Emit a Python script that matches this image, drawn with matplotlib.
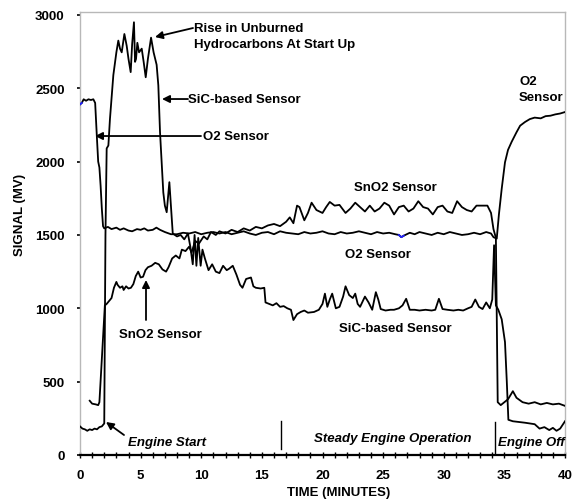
import matplotlib
matplotlib.use("Agg")
import matplotlib.pyplot as plt
import numpy as np

plt.rcParams['font.family'] = ['Liberation Sans', 'DejaVu Sans']

# ---------------- data ----------------
o2_t = [0.0, 0.15, 0.3, 0.5, 0.7, 0.9, 1.1, 1.25, 1.4, 1.5, 1.6, 1.7, 1.8, 1.9, 2.0,
        2.3, 2.6, 3.0, 3.3, 3.6, 4.0, 4.3, 4.7, 5.0, 5.3, 5.6, 6.0, 6.3, 6.6, 7.0, 7.5,
        8.0, 8.5, 9.0, 9.5, 10.0, 10.5, 11.0, 11.5, 12.0, 12.5, 13.0, 13.5, 14.0, 14.5,
        15.0, 15.5, 16.0, 16.5, 17.0, 17.5, 18.0, 18.5, 19.0, 19.5, 20.0, 20.5, 21.0,
        21.5, 22.0, 22.5, 23.0, 23.5, 24.0, 24.5, 25.0, 25.5, 26.0, 26.3, 26.5, 26.7,
        27.2, 27.6, 28.0, 28.5, 29.0, 29.5, 30.0, 30.5, 31.0, 31.5, 32.0, 32.5, 33.0,
        33.5, 33.9, 34.1, 34.37, 34.55, 34.78, 35.05, 35.3, 35.6, 36.0, 36.3, 36.7,
        37.1, 37.5, 38.0, 38.4, 38.8, 39.2, 39.6, 40.0]
o2_v = [2390, 2400, 2425, 2415, 2425, 2420, 2425, 2400, 2155, 2000, 1960, 1835, 1680, 1560, 1545,
        1555, 1540, 1550, 1535, 1545, 1530, 1525, 1540, 1535, 1545, 1530, 1535, 1550, 1535, 1520, 1505,
        1505, 1515, 1510, 1520, 1505, 1515, 1520, 1510, 1520, 1505, 1515, 1525, 1510, 1500,
        1515, 1520, 1505, 1525, 1515, 1510, 1505, 1520, 1510, 1515, 1525, 1510, 1505,
        1520, 1510, 1515, 1525, 1515, 1505, 1520, 1510, 1515, 1505, 1500, 1485, 1495,
        1515, 1505, 1520, 1510, 1500, 1515, 1505, 1520, 1510, 1500, 1505, 1515, 1505,
        1520, 1510, 1485, 1475, 1640, 1815, 1995, 2080, 2135, 2200, 2245, 2270,
        2290, 2300, 2295, 2310, 2313, 2322, 2328, 2338]

sno2_t = [0.8, 1.0, 1.3, 1.5, 1.6, 2.05, 2.2, 2.4, 2.6, 2.8, 3.0, 3.1, 3.3, 3.5, 3.6, 3.8,
          4.0, 4.2, 4.4, 4.6, 4.8, 5.0, 5.2, 5.4, 5.6, 5.9, 6.2, 6.5, 6.8, 7.1, 7.3, 7.6,
          7.9, 8.2, 8.4, 8.7, 9.0, 9.2, 9.5, 9.8, 10.2, 10.5, 10.8, 11.2, 11.5, 12.0, 12.5,
          13.0, 13.5, 14.0, 14.5, 15.0, 15.5, 16.0, 16.5, 17.0, 17.3, 17.6, 17.9, 18.1,
          18.5, 18.8, 19.1, 19.5, 20.0, 20.3, 20.6, 21.0, 21.4, 21.9, 22.3, 22.7, 23.1,
          23.5, 23.9, 24.3, 24.7, 25.1, 25.5, 25.9, 26.3, 26.7, 27.1, 27.5, 27.9, 28.3,
          28.7, 29.1, 29.5, 29.9, 30.3, 30.7, 31.1, 31.5, 31.9, 32.3, 32.7, 33.1, 33.6,
          33.9, 34.1, 34.3, 34.45, 34.7, 35.0, 35.3, 35.7, 36.0, 36.5, 37.0, 37.5, 38.0,
          38.5, 39.0, 39.5, 40.0]
sno2_v = [370, 350, 345, 340, 360, 1020, 1030, 1050, 1070, 1140, 1180, 1160, 1140, 1150, 1125, 1150,
          1135, 1140, 1165, 1220, 1250, 1210, 1215, 1260, 1280, 1290, 1310, 1300, 1265, 1250, 1280, 1340,
          1360, 1340, 1400, 1390, 1420, 1380, 1460, 1440, 1490, 1470, 1520, 1500, 1525, 1510, 1535,
          1520, 1545, 1530, 1555, 1545, 1565, 1575, 1560, 1590, 1620, 1580, 1700, 1690,
          1600, 1650, 1720, 1670, 1650, 1690, 1725, 1700, 1705, 1650, 1680, 1720, 1690,
          1660, 1700, 1660, 1680, 1720, 1700, 1640, 1690, 1700, 1660, 1680, 1730, 1690,
          1680, 1640, 1690, 1700, 1660, 1650, 1730, 1690, 1670, 1660, 1700, 1700, 1700,
          1650, 1540, 1480, 360, 340, 360, 380, 435, 390, 360, 350, 360, 345,
          355, 345, 350, 335]

sic_t = [0.0, 0.2, 0.4, 0.6, 0.8, 1.0, 1.2, 1.4, 1.6, 1.8, 2.0, 2.1, 2.2, 2.34, 2.47, 2.75,
         3.0, 3.16, 3.3, 3.44, 3.66, 3.85, 4.0, 4.18, 4.3, 4.45, 4.54, 4.62, 4.73, 4.87, 5.09,
         5.25, 5.42, 5.6, 5.86, 6.07, 6.32, 6.46, 6.6, 6.87, 7.0, 7.15, 7.37, 7.5, 7.65,
         8.0, 8.3, 8.6, 8.9, 9.1, 9.3, 9.45, 9.6, 9.75, 9.95, 10.1, 10.3, 10.6, 10.9, 11.2,
         11.5, 11.8, 12.1, 12.3, 12.6, 12.9, 13.2, 13.4, 13.7, 14.1, 14.3, 14.5, 14.9, 15.2,
         15.3, 15.6, 15.9, 16.2, 16.5, 16.8, 17.1, 17.4, 17.6, 17.9, 18.2, 18.5, 18.8, 19.3,
         19.7, 20.0, 20.2, 20.4, 20.6, 20.8, 21.1, 21.4, 21.7, 21.9, 22.2, 22.5, 22.7, 22.9,
         23.1, 23.5, 23.8, 24.1, 24.4, 24.6, 24.8, 25.2, 25.6, 25.9, 26.3, 26.6, 26.9, 27.2,
         27.6, 28.0, 28.5, 29.0, 29.3, 29.6, 29.9, 30.3, 30.8, 31.2, 31.6, 32.0, 32.3, 32.6,
         32.9, 33.2, 33.5, 33.8, 34.0, 34.15, 34.3, 34.5, 34.78, 35.05, 35.2, 35.33, 35.7,
         36.2, 36.7, 37.1, 37.5, 37.9, 38.3, 38.7, 39.0, 39.3, 39.6, 40.0]
sic_v = [195, 180, 175, 165, 175, 170, 180, 175, 190, 195, 215, 1500, 2090, 2110, 2290, 2590,
         2745, 2825, 2770, 2745, 2870, 2790, 2700, 2610, 2800, 2950, 2680, 2700, 2810, 2745, 2770,
         2680, 2575, 2700, 2845, 2745, 2660, 2520, 2200, 1790, 1700, 1655, 1860, 1700, 1510,
         1490, 1500, 1470, 1510, 1420, 1300, 1500, 1290, 1480, 1290, 1400, 1340, 1260, 1300, 1250,
         1240, 1290, 1260, 1270, 1290, 1230, 1160, 1140, 1200, 1210, 1150, 1140, 1135, 1140,
         1040, 1030, 1020, 1035, 1010, 1015, 1000, 990, 920, 960, 975, 985, 970, 975,
         990, 1030, 1100, 1010, 1060, 1100, 1000, 1010, 1080, 1150, 1090, 1070, 1100, 1030,
         1010, 1080, 1040, 990, 1110, 1060, 995, 985, 990, 990, 1000, 1020, 1065, 990,
         990, 985, 990, 985, 990, 1065, 995, 990, 985, 990, 985, 1000, 1010, 1060,
         1010, 995, 1040, 1000, 1060, 1430, 1020, 990, 925, 770, 500, 240, 230,
         225, 220, 215, 210, 180, 190, 170, 185, 165, 180, 230]

x_ticks = [0, 5, 10, 15, 20, 25, 30, 35, 40]
y_ticks = [0, 500, 1000, 1500, 2000, 2500, 3000]

# ---------------- figure ----------------
W, H = 577, 502
fig = plt.figure(figsize=(W / 100, H / 100), dpi=100)
ax = fig.add_axes([80 / W, 1 - 456 / H, (565 - 80) / W, (456 - 12.7) / H])
ax.set_xlim(0, 40)
ax.set_ylim(0, 3022)

lw = 1.3
ax.plot(o2_t, o2_v, color='black', lw=lw, zorder=3)
ax.plot(sno2_t, sno2_v, color='black', lw=lw, zorder=3)
ax.plot(sic_t, sic_v, color='black', lw=lw, zorder=3)
# small blue bits of the O2 trace
ax.plot(o2_t[:2], o2_v[:2], color='#2020ff', lw=lw, zorder=4)
i0 = o2_t.index(26.3)
ax.plot(o2_t[i0:i0 + 3], o2_v[i0:i0 + 3], color='#2020ff', lw=lw, zorder=4)

# phase separators
ax.plot([16.6, 16.6], [40, 234], color='black', lw=1.0)
ax.plot([34.2, 34.2], [0, 225], color='black', lw=1.0)

# spines
for s in ['top', 'right', 'left']:
    ax.spines[s].set_color('#b8b8b8')
    ax.spines[s].set_linewidth(1.0)
ax.spines['bottom'].set_color('black')
ax.spines['bottom'].set_linewidth(1.6)

ax.set_xticks(x_ticks)
ax.set_xticks(np.arange(0, 41, 1), minor=True)
ax.set_yticks(y_ticks)
ax.tick_params(axis='x', which='both', direction='inout', length=4, width=1.0, color='black')
ax.tick_params(axis='x', which='major', pad=8, labelsize=9.5)
ax.tick_params(axis='y', which='major', direction='out', length=2, width=1.2, color='black',
               pad=9, labelsize=9.5)
for lab in ax.get_xticklabels() + ax.get_yticklabels():
    lab.set_fontweight('bold')


def px(x, y):
    return ((x - 80) / 12.125, (456 - y) / 0.1467)


fs = 9.5
arrow = dict(arrowstyle='-|>', color='black', lw=1.3, mutation_scale=11, shrinkA=0, shrinkB=0)

# annotations
ax.text(*px(194, 37), 'Rise in Unburned\nHydrocarbons At Start Up', fontsize=fs, fontweight='bold',
        ha='left', va='center', linespacing=1.45)
ax.annotate('', xy=px(155, 38), xytext=px(193, 29), arrowprops=arrow)

ax.text(*px(188, 100), 'SiC-based Sensor', fontsize=fs, fontweight='bold', ha='left', va='center')
ax.annotate('', xy=px(162, 100), xytext=px(188, 100), arrowprops=arrow)

ax.text(*px(203, 137), 'O2 Sensor', fontsize=fs, fontweight='bold', ha='left', va='center')
ax.annotate('', xy=px(95, 137), xytext=px(201, 137), arrowprops=arrow)

ax.text(*px(160, 335), 'SnO2 Sensor', fontsize=fs, fontweight='bold', ha='center', va='center')
ax.annotate('', xy=px(146, 281), xytext=px(146, 321), arrowprops=arrow)

ax.text(*px(128, 443), 'Engine Start', fontsize=fs, fontweight='bold', fontstyle='italic',
        ha='left', va='center')
ax.annotate('', xy=px(106, 423), xytext=px(124, 436), arrowprops=arrow)

ax.text(*px(395, 188), 'SnO2 Sensor', fontsize=fs, fontweight='bold', ha='center', va='center')
ax.text(*px(378, 255), 'O2 Sensor', fontsize=fs, fontweight='bold', ha='center', va='center')
ax.text(*px(395, 329), 'SiC-based Sensor', fontsize=fs, fontweight='bold', ha='center', va='center')
ax.text(*px(519, 90), 'O2\nSensor', fontsize=fs, fontweight='bold', ha='left', va='center',
        linespacing=1.35)
ax.text(*px(393, 439), 'Steady Engine Operation', fontsize=fs, fontweight='bold',
        fontstyle='italic', ha='center', va='center')
ax.text(*px(498, 443), 'Engine Off', fontsize=fs, fontweight='bold', fontstyle='italic',
        ha='left', va='center')

fig.text(339 / W, 1 - 493 / H, 'TIME (MINUTES)', fontsize=9.5, fontweight='bold',
         ha='center', va='center')
fig.text(20 / W, 1 - 215 / H, 'SIGNAL (MV)', fontsize=9.5, fontweight='bold',
         ha='center', va='center', rotation=90)

fig.savefig('out.png', dpi=100)
